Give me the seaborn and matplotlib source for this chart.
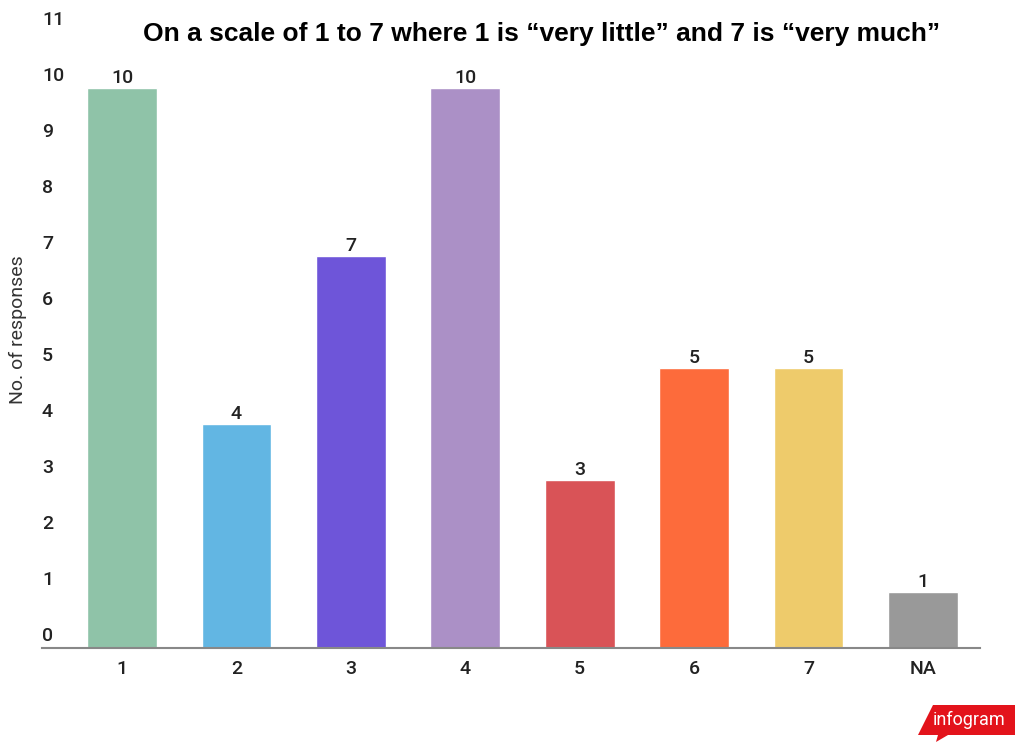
import matplotlib
matplotlib.use("Agg")
import matplotlib.pyplot as plt
import matplotlib.patches as mpatches
import matplotlib.transforms as mtransforms
import pandas as pd
import seaborn as sns

categories = ["1", "2", "3", "4", "5", "6", "7", "NA"]
responses = [10, 4, 7, 10, 3, 5, 5, 1]
colors = ["#8fc3a8", "#62b6e3", "#6e55d9", "#ab90c6",
          "#d95357", "#fd6b3b", "#eecb6b", "#999999"]
y_ticks = list(range(0, 12))

sns.set_theme(style="white")
plt.rcParams["font.family"] = ["Roboto", "DejaVu Sans"]

df = pd.DataFrame({"score": categories, "count": responses})

fig = plt.figure(figsize=(10.15, 7.42), dpi=100)
ax = fig.add_axes([42 / 1015, 1 - 648 / 742, (980 - 42) / 1015, (648 - 32) / 742])

sns.barplot(data=df, x="score", y="count", hue="score", palette=colors,
            order=categories, hue_order=categories, width=0.61,
            legend=False, saturation=1, ax=ax)

for cont in ax.containers:
    ax.bar_label(cont, padding=1, fontsize=14, fontweight="medium", color="#222222")

ax.set_xlim(-0.7, 7.5)
ax.set_ylim(0, 11)
sns.despine(ax=ax, left=True, top=True, right=True)
ax.spines["bottom"].set_color("#888888")
ax.spines["bottom"].set_linewidth(1.5)

# infogram-style y labels sit just above their gridline, inside the plot
ax.set_yticks([])
trans = mtransforms.blended_transform_factory(ax.transAxes, ax.transData)
for t in y_ticks:
    ax.text(0.0, t + 0.05, str(t), transform=trans, ha="left", va="bottom",
            fontsize=14, fontweight="medium", color="#222222")

ax.set_xlabel("")
ax.set_ylabel("")
ax.tick_params(axis="x", length=0, pad=9, labelsize=14, colors="#222222")
for lbl in ax.get_xticklabels():
    lbl.set_fontweight("medium")

fig.text(18 / 1015, 1 - 330 / 742, "No. of responses", rotation=90,
         ha="center", va="center", fontsize=14, color="#333333")

fig.text(542 / 1015, 1 - 34 / 742,
         "On a scale of 1 to 7 where 1 is \u201cvery little\u201d and 7 is \u201cvery much\u201d",
         ha="center", va="center", fontsize=19, fontweight="bold",
         family=["Liberation Sans", "DejaVu Sans"], color="black")

# infogram badge
W, H = 1015, 742
pts = [(918, 735), (933, 705), (1015, 705), (1015, 735), (948, 735), (936, 742), (938, 735)]
badge = mpatches.Polygon([(x / W, 1 - y / H) for x, y in pts], closed=True,
                         transform=fig.transFigure, facecolor="#e3131b",
                         edgecolor="none")
fig.patches.append(badge)
fig.text(969 / W, 1 - 720 / H, "infogram", ha="center", va="center",
         fontsize=13, color="white", stretch="condensed")

fig.savefig("out.png", dpi=100)
